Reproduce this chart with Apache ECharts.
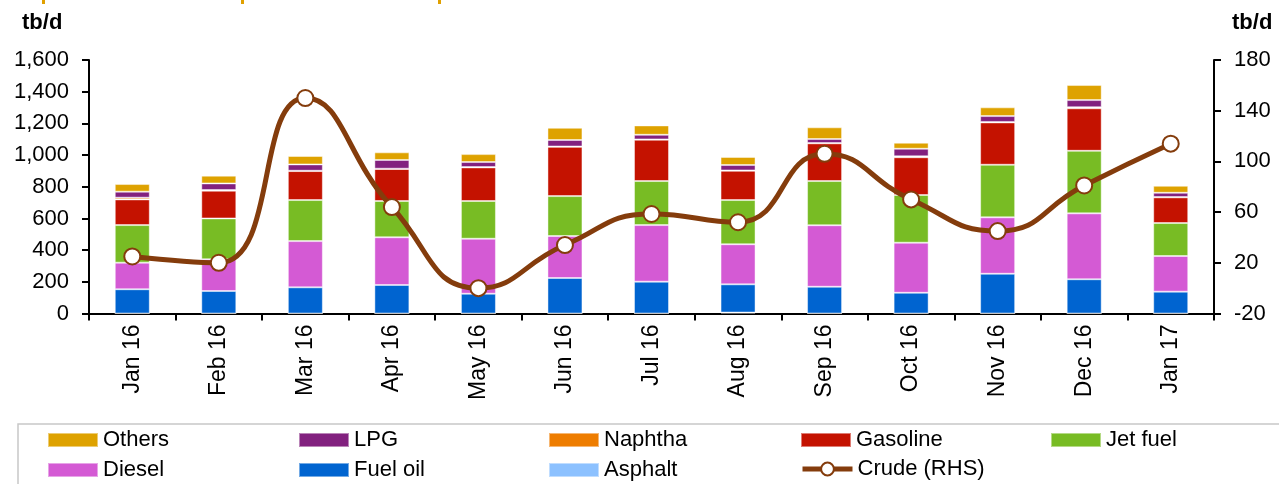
<!DOCTYPE html>
<html>
<head>
<meta charset="utf-8">
<script src="https://cdn.jsdelivr.net/npm/echarts@6/dist/echarts.min.js"></script>
<style>html,body{margin:0;padding:0;background:#fff}#c{width:1279px;height:484px}</style>
</head>
<body>
<div id="c"></div>
<script>
const categories = ['Jan 16','Feb 16','Mar 16','Apr 16','May 16','Jun 16','Jul 16','Aug 16','Sep 16','Oct 16','Nov 16','Dec 16','Jan 17'];
const asphalt  = [0, 0, 0, 0, 0, 0, 0, 6, 0, 0, 0, 0, 0];
const fuelOil  = [153, 142, 165, 180, 125, 224, 201, 178, 169, 131, 251, 216, 138];
const diesel   = [168, 200, 292, 301, 347, 265, 357, 253, 388, 316, 356, 416, 225];
const jetFuel  = [237, 258, 259, 229, 238, 252, 278, 279, 279, 301, 332, 395, 208];
const gasoline = [162, 175, 183, 202, 212, 311, 261, 185, 238, 238, 267, 268, 162];
const naphtha  = [11, 4, 2, 2, 2, 2, 2, 2, 2, 6, 3, 7, 2];
const lpg      = [38, 42, 40, 55, 32, 41, 29, 34, 25, 48, 37, 45, 27];
const others   = [48, 49, 53, 48, 50, 77, 59, 51, 74, 38, 55, 95, 44];
const crude    = [25, 20, 150, 64, 0, 34, 58.5, 52, 106, 70, 45, 81, 114];
const leftTicks  = [0, 200, 400, 600, 800, 1000, 1200, 1400, 1600];
const rightTicks = [-20, 20, 60, 100, 140, 180];

const FONT = 'Liberation Sans, Arial, sans-serif';
const chart = echarts.init(document.getElementById('c'), null, {renderer: 'canvas'});

function bar(name, data, color) {
  return {
    name, type: 'bar', stack: 'p', data, barWidth: 35,
    itemStyle: {color, borderColor: 'rgba(255,255,255,0.45)', borderWidth: 1},
    emphasis: {disabled: true}
  };
}
const txt = {fontFamily: FONT, fontSize: 22, color: '#000'};
function leg(name, x, y, isLine) {
  const o = {
    data: [name], left: x, top: y, padding: 0, itemWidth: 50, itemHeight: 14, itemGap: 0,
    textStyle: {fontFamily: FONT, fontSize: 22, color: '#000', padding: [0, 0, 0, 0]},
    selectedMode: false
  };
  if (isLine) {
    o.itemHeight = 16;
    o.lineStyle = {width: 5, color: '#843C0C'};
    o.itemStyle = {color: '#fff', borderColor: '#843C0C', borderWidth: 2};
  } else {
    o.icon = 'rect';
  }
  return o;
}

chart.setOption({
  animation: false,
  grid: {left: 89, right: 65, top: 60, bottom: 170.5, containLabel: false},
  legend: [
    leg('Others', 47, 429), leg('LPG', 298, 429), leg('Naphtha', 548, 429), leg('Gasoline', 800, 429), leg('Jet fuel', 1050, 429),
    leg('Diesel', 47, 459), leg('Fuel oil', 298, 459), leg('Asphalt', 548, 459), leg('Crude (RHS)', 800, 458, true)
  ],
  xAxis: {
    type: 'category', data: categories, boundaryGap: true,
    axisLine: {lineStyle: {color: '#000', width: 2}},
    axisTick: {show: true, length: 7, lineStyle: {color: '#000', width: 2}},
    axisLabel: Object.assign({rotate: 90, margin: 11, interval: 0}, txt, {fontSize: 23}),
    splitLine: {show: false}
  },
  yAxis: [
    {
      type: 'value', min: 0, max: 1600, interval: 200,
      axisLine: {show: true, lineStyle: {color: '#000', width: 2}},
      axisTick: {show: true, length: 7, lineStyle: {color: '#000', width: 2}},
      axisLabel: Object.assign({margin: 20, formatter: v => v.toLocaleString('en-US')}, txt),
      splitLine: {show: false}
    },
    {
      type: 'value', min: -20, max: 180, position: 'right',
      axisLine: {show: true, lineStyle: {color: '#000', width: 2}},
      axisTick: {show: true, length: 7, customValues: rightTicks, lineStyle: {color: '#000', width: 2}},
      axisLabel: Object.assign({margin: 20, customValues: rightTicks}, txt),
      splitLine: {show: false}
    }
  ],
  graphic: [
    {type: 'text', left: 22, top: 12, style: {text: 'tb/d', font: 'bold 22px ' + FONT, fill: '#000'}},
    {type: 'text', left: 1232, top: 12, style: {text: 'tb/d', font: 'bold 22px ' + FONT, fill: '#000'}},
    {type: 'rect', shape: {x: 18, y: 424, width: 1280, height: 80}, style: {fill: 'none', stroke: '#c8c8c8', lineWidth: 1.5}, z: -1},
    {type: 'rect', shape: {x: 42, y: 0, width: 3, height: 4}, style: {fill: '#E0A000'}},
    {type: 'rect', shape: {x: 241, y: 0, width: 3, height: 4}, style: {fill: '#E0A000'}},
    {type: 'rect', shape: {x: 438, y: 0, width: 3, height: 4}, style: {fill: '#E0A000'}}
  ],
  series: [
    bar('Asphalt', asphalt, '#8CC1FF'),
    bar('Fuel oil', fuelOil, '#0064D0'),
    bar('Diesel', diesel, '#D45AD4'),
    bar('Jet fuel', jetFuel, '#78BC24'),
    bar('Gasoline', gasoline, '#C41200'),
    bar('Naphtha', naphtha, '#EE7D00'),
    bar('LPG', lpg, '#82217F'),
    bar('Others', others, '#DEA200'),
    {
      name: 'Crude (RHS)', type: 'line', yAxisIndex: 1, data: crude, smooth: 0.5,
      symbol: 'circle', symbolSize: 16,
      lineStyle: {color: '#843C0C', width: 5},
      itemStyle: {color: '#fff', borderColor: '#843C0C', borderWidth: 2},
      emphasis: {disabled: true}, z: 5
    }
  ]
});
</script>
</body>
</html>
